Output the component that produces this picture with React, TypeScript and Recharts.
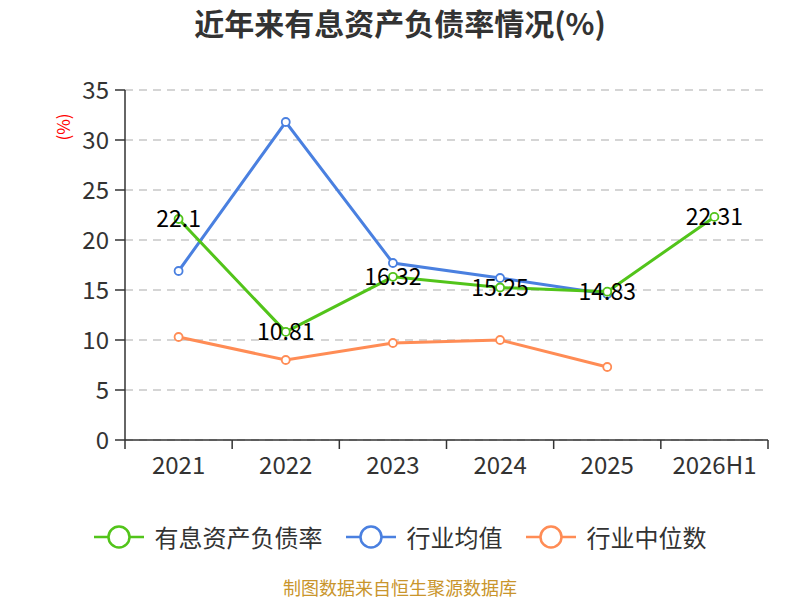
import React from 'react';
import { LineChart, Line, XAxis, YAxis, CartesianGrid, LabelList } from 'recharts';

const years = ['2021', '2022', '2023', '2024', '2025', '2026H1'];
const debtRatio = [22.1, 10.81, 16.32, 15.25, 14.83, 22.31];
const industryMean = [16.9, 31.8, 17.7, 16.2, 14.6, null];
const industryMedian = [10.3, 8.0, 9.7, 10.0, 7.3, null];
const yTicks = [0, 5, 10, 15, 20, 25, 30, 35];

const seriesInfo = [
  { key: 'debt', name: '有息资产负债率', color: '#52c41a' },
  { key: 'mean', name: '行业均值', color: '#4a80e0' },
  { key: 'median', name: '行业中位数', color: '#ff8c55' },
];

const data = years.map((year, i) => ({
  year,
  debt: debtRatio[i],
  mean: industryMean[i],
  median: industryMedian[i],
}));

const FONT = '"Noto Sans CJK SC", "Noto Sans", sans-serif';
const W = 800;
const H = 600;
const LEFT = 125;
const RIGHT = 32;
const TOP = 90;
const BAND = (W - LEFT - RIGHT) / years.length;

const XTick = (props: any) => {
  const { x, y, payload, index } = props;
  return (
    <g>
      <line x1={x - BAND / 2} x2={x - BAND / 2} y1={y} y2={y + 9} stroke="#333" strokeWidth={1.5} />
      {index === years.length - 1 && (
        <line x1={x + BAND / 2} x2={x + BAND / 2} y1={y} y2={y + 9} stroke="#333" strokeWidth={1.5} />
      )}
      <text x={x} y={y + 34} textAnchor="middle" fontSize={24} fill="#333" fontFamily={FONT}>
        {payload.value}
      </text>
    </g>
  );
};

const ValueLabel = (props: any) => {
  const { x, y, value } = props;
  return (
    <text x={x} y={y - 2} textAnchor="middle" dominantBaseline="central" fontSize={23} fill="#000" fontFamily={FONT}>
      {value}
    </text>
  );
};

const ChartLegend = () => (
  <div
    style={{
      position: 'absolute',
      top: 522,
      left: 0,
      width: W,
      display: 'flex',
      justifyContent: 'center',
      alignItems: 'center',
      fontSize: 24,
      lineHeight: '30px',
      color: '#333',
    }}
  >
    {seriesInfo.map((s, i) => (
      <div key={s.key} style={{ display: 'flex', alignItems: 'center', marginRight: i < seriesInfo.length - 1 ? 23 : 0 }}>
        <svg width={50} height={26} style={{ marginRight: 11 }}>
          <line x1={0} x2={50} y1={13} y2={13} stroke={s.color} strokeWidth={2.5} />
          <circle cx={25} cy={13} r={10.5} fill="#fff" stroke={s.color} strokeWidth={2.5} />
        </svg>
        <span>{s.name}</span>
      </div>
    ))}
  </div>
);

export default function App() {
  return (
    <div style={{ position: 'absolute', left: 0, top: 0, width: W, height: H, background: '#fff', fontFamily: FONT }}>
      <div style={{ position: 'absolute', top: 2, width: W, textAlign: 'center', fontSize: 30, lineHeight: '40px', fontWeight: 'bold', color: '#333' }}>
        近年来有息资产负债率情况(%)
      </div>
      <div
        style={{
          position: 'absolute',
          left: 63,
          top: 127,
          transform: 'translate(-50%, -50%) rotate(-90deg)',
          color: '#ff0000',
          fontSize: 17,
          lineHeight: '20px',
          whiteSpace: 'nowrap',
        }}
      >
        (%)
      </div>
      <LineChart width={W} height={H} data={data} margin={{ top: TOP, right: RIGHT, left: 0, bottom: 120 }}>
        <CartesianGrid vertical={false} stroke="#c8c8c8" strokeDasharray="8 6" strokeWidth={1.5} />
        <XAxis
          dataKey="year"
          scale="band"
          axisLine={{ stroke: '#333', strokeWidth: 1.5 }}
          tickLine={false}
          tickSize={0}
          tickMargin={0}
          height={40}
          tick={<XTick />}
          interval={0}
        />
        <YAxis
          width={LEFT}
          domain={[0, 35]}
          ticks={yTicks}
          interval={0}
          axisLine={{ stroke: '#333', strokeWidth: 1.5 }}
          tickLine={{ stroke: '#333', strokeWidth: 1.5 }}
          tickSize={10}
          tickMargin={6}
          tick={{ fill: '#333', fontSize: 24, fontFamily: FONT }}
        />
        <Line
          dataKey="mean"
          name="行业均值"
          stroke="#4a80e0"
          strokeWidth={3}
          dot={{ r: 4, fill: '#fff', stroke: '#4a80e0', strokeWidth: 1.8 }}
          isAnimationActive={false}
        />
        <Line
          dataKey="median"
          name="行业中位数"
          stroke="#ff8c55"
          strokeWidth={3}
          dot={{ r: 4, fill: '#fff', stroke: '#ff8c55', strokeWidth: 1.8 }}
          isAnimationActive={false}
        />
        <Line
          dataKey="debt"
          name="有息资产负债率"
          stroke="#52c41a"
          strokeWidth={3}
          dot={{ r: 4, fill: '#fff', stroke: '#52c41a', strokeWidth: 1.8 }}
          isAnimationActive={false}
        >
          <LabelList dataKey="debt" content={<ValueLabel />} />
        </Line>
      </LineChart>
      <ChartLegend />
      <div style={{ position: 'absolute', top: 577, width: W, textAlign: 'center', fontSize: 18, lineHeight: '20px', color: '#c9952c' }}>
        制图数据来自恒生聚源数据库
      </div>
    </div>
  );
}
